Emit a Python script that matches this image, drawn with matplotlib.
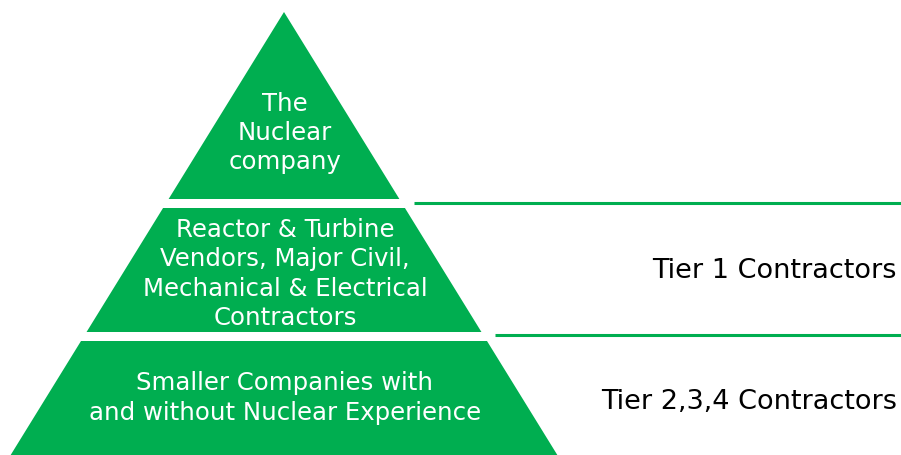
import matplotlib.pyplot as plt
from matplotlib.patches import Polygon

plt.switch_backend("Agg")

# pyramid content, top to bottom
tier_labels = [
    "The\nNuclear\ncompany",
    "Reactor & Turbine\nVendors, Major Civil,\nMechanical & Electrical\nContractors",
    "Smaller Companies with\nand without Nuclear Experience",
]
side_labels = ["", "Tier 1 Contractors", "Tier 2,3,4 Contractors"]

GREEN = "#00AE50"
W, H = 901, 455
apex_x, apex_y = 284, 12
slope = 0.617  # half-width per pixel of height
bands = [(apex_y, 199), (208, 332), (341, 460)]
text_y = [133, 274, 398]
side_y = [0, 271, 402]
divider_y = [203, 335]

fig = plt.figure(figsize=(W / 100, H / 100), dpi=100)
ax = fig.add_axes([0, 0, 1, 1])
ax.set_xlim(0, W)
ax.set_ylim(H, 0)
ax.axis("off")


def half(y):
    return slope * (y - apex_y)


for (y0, y1), label, ty in zip(bands, tier_labels, text_y):
    pts = [(apex_x - half(y0), y0), (apex_x + half(y0), y0),
           (apex_x + half(y1), y1), (apex_x - half(y1), y1)]
    ax.add_patch(Polygon(pts, closed=True, color=GREEN, lw=0))
    ax.text(apex_x + 1, ty, label, color="white", fontsize=17.6,
            ha="center", va="center", linespacing=1.27)

# divider lines running from the pyramid edge to the right margin
for y in divider_y:
    ax.plot([apex_x + half(y) + 12, W], [y, y], color=GREEN, lw=2.2,
            solid_capstyle="butt")

for label, sy in zip(side_labels, side_y):
    if label:
        ax.text(897, sy, label, color="black", fontsize=19.5,
                ha="right", va="center")

fig.savefig("out.png", dpi=100)
